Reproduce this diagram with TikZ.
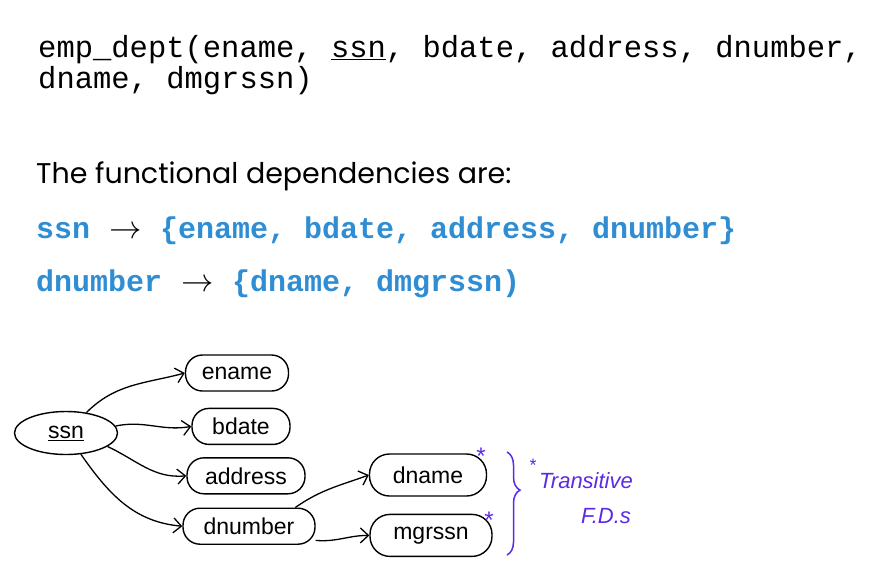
\documentclass[tikz,border=0pt]{standalone}
\usepackage{fontspec}
\setmainfont{Liberation Sans}
\newfontfamily\codefont{Liberation Mono}
\newfontfamily\headfont{Poppins}
\usepackage{xcolor}
\usepackage{graphicx}
\usetikzlibrary{arrows,arrows.meta,positioning,shapes.geometric,decorations.pathreplacing}
\definecolor{fdblue}{RGB}{47,141,212}
\definecolor{pen}{RGB}{92,42,228}
\newcommand{\fdarrow}{\makebox[70pt]{\textcolor{black}{\scalebox{1.3}{$\rightarrow$}}}}

\begin{document}
\begin{tikzpicture}[x=1pt,y=-1pt, >={Straight Barb[length=8pt, width=15pt]},
		attr/.style={draw, line width=1.4pt, rounded corners=17pt, minimum height=36pt, inner sep=2pt, font=\fontsize{23}{23}\selectfont},
		dep/.style={->, line width=1.3pt},
		code/.style={anchor=base west, inner sep=0pt, font=\codefont\fontsize{30.5}{30.5}\selectfont},
		fd/.style={anchor=base west, inner sep=0pt, text=fdblue, font=\codefont\bfseries\fontsize{30}{30}\selectfont},
		note/.style={text=pen, inner sep=0pt, font=\itshape\fontsize{22}{22}\selectfont}]
			\useasboundingbox (0,0) rectangle (891,568);
			% relation schema
			\node[code] (schema1) at (38,57) {emp\_dept(ename, \underline{ssn}, bdate, address, dnumber,};
			\node[code] (schema2) at (38,88) {dname, dmgrssn)};
			\node[anchor=base west, inner sep=0pt, font=\headfont\fontsize{28.5}{28.5}\selectfont] (head) at (36,183) {The functional dependencies are:};
			\node[fd] (fd1) at (36,238) {ssn\fdarrow\{ename, bdate, address, dnumber\}};
			\node[fd] (fd2) at (36,291) {dnumber\fdarrow\{dname, dmgrssn)};
			
			% dependency sketch
			\node[attr, ellipse, rounded corners=0pt, minimum width=103pt, minimum height=43pt] (ssn) at (66,433) {\underline{ssn}};
			\node[attr, minimum width=103pt] (ename) at (237,373) {ename};
			\node[attr, minimum width=98pt] (bdate) [below=16pt of ename, xshift=4pt] {bdate};
			\node[attr, minimum width=118pt] (address) [below=12pt of bdate, xshift=5pt] {address};
			\node[attr, minimum width=132pt] (dnumber) [below=13pt of address, xshift=3pt] {dnumber};
			\node[attr, minimum width=117pt, minimum height=42pt, rounded corners=20pt] (dname) at (428,475) {dname};
			\node[attr, minimum width=122pt, minimum height=42pt, rounded corners=20pt] (mgrssn) [below=17pt of dname, xshift=3pt] {mgrssn};
			
			\draw[dep] (ssn.45) to[out=45,in=195] (ename.west);
			\draw[dep] (ssn.8) to[out=12,in=190] (bdate.west);
			\draw[dep] (ssn.-18) to[out=-25,in=185] (address.west);
			\draw[dep] (ssn.-55) to[out=-55,in=175] (dnumber.west);
			\draw[dep] (dnumber.22) to[out=35,in=200] (dname.west);
			\draw[dep] (dnumber.-12) to[out=-5,in=180] (mgrssn.west);
			
			% annotations
			\node[note, font=\fontsize{24}{24}\selectfont] (star1) at (481,456) {*};
			\node[note, font=\fontsize{24}{24}\selectfont] (star2) at (489,520) {*};
			\draw[pen, line width=1.5pt, decoration={brace, amplitude=13pt, aspect=0.37}, decorate] (507,452) -- (507,555);
			\node[note, font=\fontsize{18}{18}\selectfont] (star3) at (533,465) {*};
			\node[note] (trans) at (586,481) {Transitive};
			\node[note] (fds) at (606,516) {F.D.s};
		\end{tikzpicture}
\end{document}
